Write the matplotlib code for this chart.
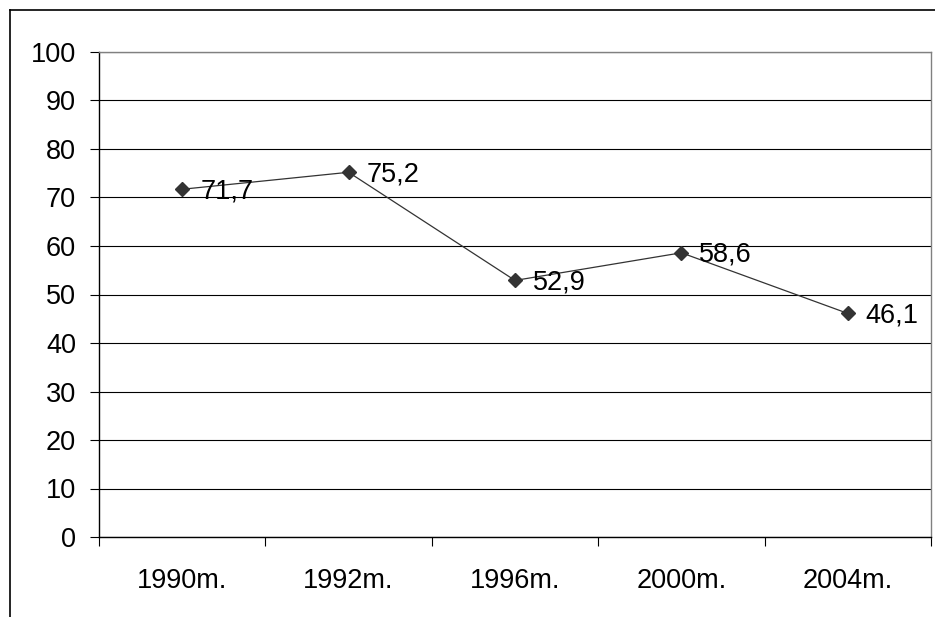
import matplotlib
matplotlib.use("Agg")
from matplotlib import pyplot as plt
from matplotlib.lines import Line2D
import numpy as np

years = ["1990m.", "1992m.", "1996m.", "2000m.", "2004m."]
values = [71.7, 75.2, 52.9, 58.6, 46.1]
value_labels = ["71,7", "75,2", "52,9", "58,6", "46,1"]
y_ticks = list(range(0, 101, 10))

plt.rcParams["font.family"] = ["Liberation Sans", "DejaVu Sans"]

W, H = 935, 617
fig = plt.figure(figsize=(W / 100, H / 100), dpi=100)
fig.patch.set_facecolor("white")

# plot area in pixels: x 99..931, y 52..537
ax = fig.add_axes([99 / W, (H - 537) / H, (931 - 99) / W, (537 - 52) / H])

x = np.arange(len(years)) + 0.5
ax.plot(x, values, color="#333333", lw=0.9, marker="D", ms=7.5,
        markerfacecolor="#333333", markeredgecolor="#333333", zorder=3)

for xi, v, lab in zip(x, values, value_labels):
    ax.annotate(lab, (xi, v), xytext=(13, -1.5), textcoords="offset points",
                ha="left", va="center", fontsize=19.5, color="black", zorder=4)

ax.set_xlim(0, len(years))
ax.set_ylim(0, 100)

ax.set_yticks(y_ticks)
ax.set_yticklabels([str(t) for t in y_ticks])
ax.yaxis.grid(True, color="black", lw=0.8)
ax.set_axisbelow(True)

ax.set_xticks(np.arange(len(years) + 1))
ax.set_xticklabels([])
ax.set_xticks(x, minor=True)
ax.set_xticklabels(years, minor=True)

ax.tick_params(axis="y", direction="out", length=6.5, width=0.8,
               pad=10, labelsize=19.5, colors="black")
ax.tick_params(axis="x", which="major", direction="out", length=6.5, width=0.8)
ax.tick_params(axis="x", which="minor", length=0, pad=22, labelsize=19.5)

ax.spines["left"].set_color("black")
ax.spines["bottom"].set_color("black")
ax.spines["top"].set_color("#808080")
ax.spines["right"].set_color("#808080")
for s in ax.spines.values():
    s.set_linewidth(1.0)

# outer chart frame (left and top edges)
fig.add_artist(Line2D([9.5 / W, 9.5 / W], [0, 1 - 10 / H],
                      transform=fig.transFigure, color="black", lw=1.2))
fig.add_artist(Line2D([9.5 / W, 1], [1 - 10 / H, 1 - 10 / H],
                      transform=fig.transFigure, color="black", lw=1.2))

fig.savefig("out.png", dpi=100)
